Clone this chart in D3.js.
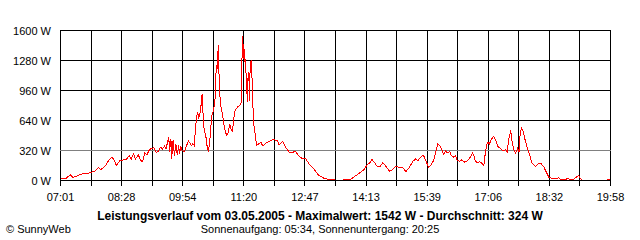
<!DOCTYPE html>
<html>
<head>
<meta charset="utf-8">
<script src="https://cdn.jsdelivr.net/npm/d3@7"></script>
<style>
  body { margin: 0; background: #fff; }
  svg { display: block; }
  text { font-family: "Liberation Sans", Arial, sans-serif; fill: #000; }
</style>
</head>
<body>
<div class="chart"></div>
<script>
// SunnyWeb Leistungsverlauf 03.05.2005

var w = 640, h = 240;

// time of day and power (W)
var times = ["07:02","07:08","07:15","07:18","07:22","07:29","07:41","07:44","07:49","07:55",
  "07:58","08:04","08:09","08:13","08:16","08:20","08:25","08:30","08:35","08:38",
  "08:41","08:44","08:47","08:51","08:54","08:57","09:00","09:03","09:06","09:09",
  "09:13","09:16","09:19","09:22","09:25","09:28","09:30","09:34","09:35","09:37",
  "09:38","09:40","09:42","09:44","09:46","09:48","09:49","09:51","09:53","09:56",
  "09:58","10:02","10:06","10:08","10:10","10:12","10:14","10:15","10:16","10:18",
  "10:20","10:21","10:22","10:23","10:25","10:27","10:28","10:30","10:32","10:33",
  "10:35","10:37","10:39","10:40","10:41","10:42","10:44","10:45","10:46","10:47",
  "10:48","10:50","10:52","10:54","10:56","10:58","11:00","11:02","11:04","11:05",
  "11:07","11:09","11:11","11:14","11:16","11:17","11:18","11:19","11:20","11:21",
  "11:22","11:24","11:25","11:26","11:27","11:28","11:29","11:31","11:32","11:34",
  "11:36","11:38","11:41","11:44","11:47","11:52","11:56","12:01","12:07","12:10",
  "12:15","12:19","12:24","12:29","12:33","12:38","12:42","12:47","12:52","12:59",
  "13:06","13:13","13:20","13:27","13:31","13:39","13:43","13:51","13:55","14:02",
  "14:10","14:14","14:18","14:21","14:25","14:28","14:33","14:36","14:40","14:46",
  "14:50","14:54","15:00","15:05","15:09","15:14","15:19","15:23","15:26","15:30",
  "15:33","15:35","15:39","15:41","15:45","15:48","15:51","15:54","15:57","16:00",
  "16:02","16:05","16:08","16:11","16:13","16:16","16:19","16:21","16:25","16:28",
  "16:32","16:36","16:40","16:43","16:45","16:47","16:50","16:53","16:56","16:59",
  "17:01","17:04","17:07","17:10","17:13","17:16","17:19","17:23","17:26","17:30",
  "17:32","17:34","17:37","17:39","17:41","17:44","17:47","17:49","17:50","17:52",
  "17:55","17:57","18:00","18:04","18:07","18:12","18:17","18:20","18:24","18:28",
  "18:31","18:36","18:40","18:45","18:48","18:54","18:58","19:00","19:05","19:11",
  "19:13","19:16","19:18","19:53","19:54","19:57"];
var watts = [18,18,61,35,40,67,78,89,96,139,
  117,153,213,249,231,160,213,220,231,267,
  231,284,231,274,213,203,295,274,320,345,
  348,302,306,356,338,366,338,462,306,444,
  231,427,260,391,274,373,284,356,320,306,
  356,420,373,391,373,587,711,729,658,711,
  829,924,782,587,516,444,373,302,427,551,
  693,747,836,960,1227,1173,1447,1120,942,800,
  782,693,587,516,480,516,604,551,516,604,
  729,764,782,800,818,1120,1542,1298,1458,1262,
  1298,1013,836,1120,1156,853,1262,1280,942,604,
  498,373,391,409,366,402,416,437,427,380,
  416,356,302,302,309,260,238,238,178,124,
  53,25,11,11,0,0,11,11,35,71,
  117,167,189,224,189,153,153,189,160,96,
  117,149,142,132,96,142,206,231,213,249,
  274,249,178,142,171,213,302,391,373,327,
  277,313,295,313,267,249,267,220,206,220,
  196,213,249,291,267,206,189,203,185,160,
  284,409,391,444,469,427,362,338,313,327,
  302,427,533,409,338,291,348,302,462,562,
  516,444,356,267,185,149,185,178,142,78,
  35,18,18,28,7,7,28,7,7,43,
  50,18,0,0,7,7];

var yTicks = [0, 320, 640, 960, 1280, 1600];
var xLabels = ["07:01","08:28","09:54","11:20","12:47","14:13","15:39","17:06","18:32","19:58"];
var average = 324, maximum = 1542;

function toMin(s) {
	var p = s.split(":");
	return +p[0] * 60 + +p[1];
}

var svg = d3.select('.chart').append('svg')
			.attr('width', w)
			.attr('height', h)

var t0 = toMin(xLabels[0]), t1 = toMin(xLabels[xLabels.length - 1]);
var x = d3.scaleLinear().domain([t0, t1]).range([60.5, 610.5]);
var y = d3.scaleLinear().domain([0, 1600]).range([180.5, 30.5]);

// 19 gridlines, every second one labelled
var gridTicks = d3.range(19).map(function(i) { return t0 + i * (t1 - t0) / 18; });

var grid = svg.append('g').attr('shape-rendering', 'crispEdges');

grid.selectAll('line.h')
	.data(yTicks)
	.enter().append('line')
		.attr('class', 'h')
		.attr('x1', 60).attr('x2', 611)
		.attr('y1', function(d) { return y(d); })
		.attr('y2', function(d) { return y(d); })
		.attr('stroke', '#000')

grid.selectAll('line.v')
	.data(gridTicks)
	.enter().append('line')
		.attr('class', 'v')
		.attr('x1', function(d) { return Math.round(x(d) - 0.5) + 0.5; })
		.attr('x2', function(d) { return Math.round(x(d) - 0.5) + 0.5; })
		.attr('y1', 30).attr('y2', 186)
		.attr('stroke', '#000')

// average line (grey)
var ya = Math.round(y(average) - 0.5) + 0.5;
svg.append('line')
	.attr('x1', 60).attr('x2', 611)
	.attr('y1', ya).attr('y2', ya)
	.attr('stroke', '#808080')
	.attr('shape-rendering', 'crispEdges')

var line = d3.line()
	.x(function(d, i) { return x(toMin(times[i])); })
	.y(function(d) { return y(d); });

svg.append('path')
	.datum(watts)
	.attr('d', line)
	.attr('fill', 'none')
	.attr('stroke', '#ff0000')
	.attr('stroke-width', 1)
	.attr('shape-rendering', 'crispEdges')

// bottom axis line on top of the data
svg.append('line')
	.attr('x1', 60).attr('x2', 611)
	.attr('y1', 180.5).attr('y2', 180.5)
	.attr('stroke', '#000')
	.attr('shape-rendering', 'crispEdges')

svg.selectAll('text.yl')
	.data(yTicks)
	.enter().append('text')
		.attr('class', 'yl')
		.attr('x', 51)
		.attr('y', function(d) { return y(d) + 4; })
		.attr('text-anchor', 'end')
		.style('font-size', '11px')
		.text(function(d) { return d + ' W'; })

svg.selectAll('text.xl')
	.data(xLabels)
	.enter().append('text')
		.attr('class', 'xl')
		.attr('x', function(d, i) { return x(gridTicks[i * 2]); })
		.attr('y', 201)
		.attr('text-anchor', 'middle')
		.style('font-size', '11px')
		.text(function(d) { return d; })

svg.append('text')
	.attr('x', 320).attr('y', 220)
	.attr('text-anchor', 'middle')
	.style('font-size', '12px')
	.style('font-weight', 'bold')
	.text('Leistungsverlauf vom 03.05.2005 - Maximalwert: ' + maximum + ' W - Durchschnitt: ' + average + ' W')

svg.append('text')
	.attr('x', 320).attr('y', 233)
	.attr('text-anchor', 'middle')
	.style('font-size', '11px')
	.text('Sonnenaufgang: 05:34, Sonnenuntergang: 20:25')

svg.append('text')
	.attr('x', 6).attr('y', 233)
	.style('font-size', '11px')
	.text('\u00a9 SunnyWeb')
</script>
</body>
</html>
